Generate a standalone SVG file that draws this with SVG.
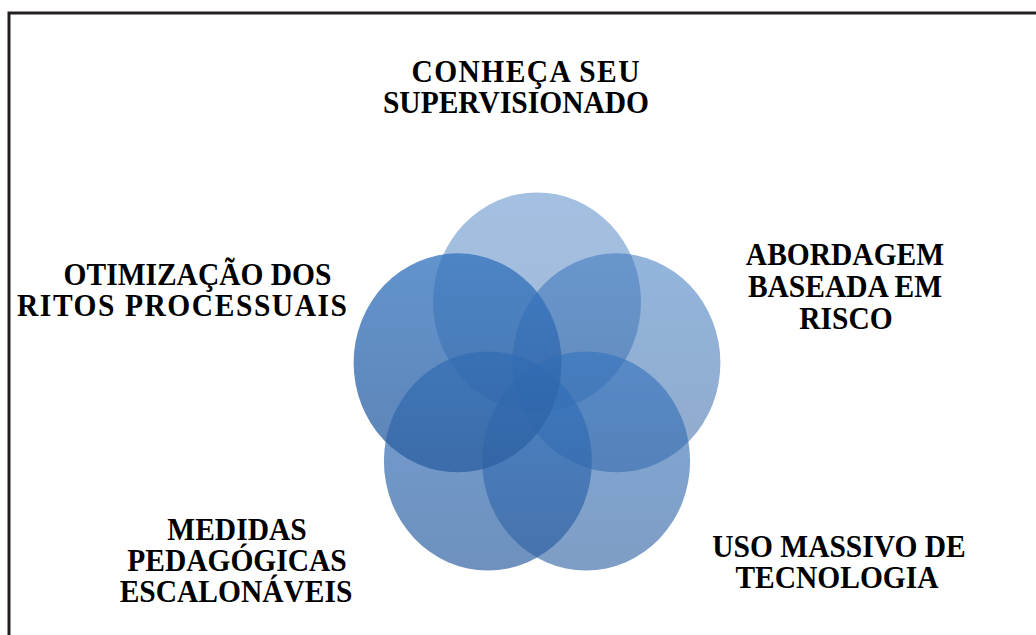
<svg xmlns="http://www.w3.org/2000/svg" width="1036" height="635" viewBox="0 0 1036 635">
  <defs>
    <linearGradient id="g" x1="0" y1="0" x2="0" y2="1">
      <stop offset="0" stop-color="#3373be"/>
      <stop offset="1" stop-color="#2d5fa0"/>
    </linearGradient>
    <style>
      .c { fill: url(#g); }
      .t { font-family: "Liberation Serif", "Times New Roman", serif; font-weight: bold; font-size: 29.5px; fill: #000; text-anchor: middle; }
    </style>
  </defs>
  <rect x="0" y="0" width="1036" height="635" fill="#ffffff"/>
  <rect id="frame" x="9" y="13" width="1050" height="650" fill="none" stroke="#231f20" stroke-width="3"/>

  <g id="circles">
    <g id="n1"><ellipse class="c" cx="537" cy="302" rx="104" ry="109.5" fill-opacity="0.45"/></g>
    <g id="n2"><ellipse class="c" cx="616.4" cy="362.8" rx="104" ry="109.5" fill-opacity="0.53"/></g>
    <g id="n3"><ellipse class="c" cx="586.1" cy="461" rx="104" ry="109.5" fill-opacity="0.61"/></g>
    <g id="n4"><ellipse class="c" cx="487.9" cy="461" rx="104" ry="109.5" fill-opacity="0.69"/></g>
    <g id="n5"><ellipse class="c" cx="457.6" cy="362.8" rx="104" ry="109.5" fill-opacity="0.77"/></g>
  </g>

  <g id="labels" transform="scale(1 1.053)">
    <g id="l1">
      <text class="t" x="525.5" y="77.9" textLength="228" lengthAdjust="spacing">CONHEÇA SEU</text>
      <text class="t" x="516" y="107.3">SUPERVISIONADO</text>
    </g>
    <g id="l2">
      <text class="t" x="845" y="251.7">ABORDAGEM</text>
      <text class="t" x="845" y="282.5">BASEADA EM</text>
      <text class="t" x="846" y="312.7">RISCO</text>
    </g>
    <g id="l3">
      <text class="t" x="839" y="528.7">USO MASSIVO DE</text>
      <text class="t" x="837" y="558.7">TECNOLOGIA</text>
    </g>
    <g id="l4">
      <text class="t" x="237" y="512.8">MEDIDAS</text>
      <text class="t" x="237" y="541.8">PEDAGÓGICAS</text>
      <text class="t" x="236" y="571.4">ESCALONÁVEIS</text>
    </g>
    <g id="l5">
      <text class="t" x="197.5" y="270.7">OTIMIZAÇÃO DOS</text>
      <text class="t" x="182" y="300.1" textLength="330" lengthAdjust="spacing">RITOS PROCESSUAIS</text>
    </g>
  </g>
</svg>
